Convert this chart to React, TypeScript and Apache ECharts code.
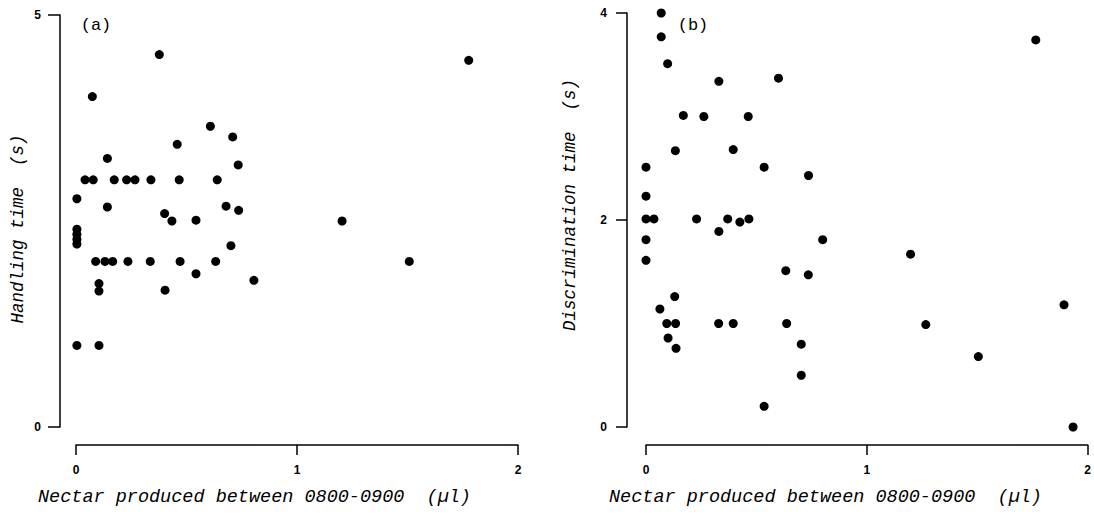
import React, { useEffect, useRef } from "react";
import * as echarts from "echarts";

// Panel (a): Handling time vs nectar produced
const handlingX = [0.377, 1.777, 0.074, 0.608, 0.709, 0.458, 0.142, 0.734, 0.041, 0.078, 0.173, 0.229, 0.267, 0.339, 0.467, 0.639, 0.004, 0.142, 0.401, 0.434, 0.543, 0.679, 0.736, 1.204, 0.004, 0.004, 0.004, 0.004, 0.701, 0.089, 0.131, 0.166, 0.235, 0.336, 0.471, 0.632, 1.508, 0.543, 0.805, 0.104, 0.104, 0.403, 0.004, 0.104];
const handlingY = [4.52, 4.45, 4.01, 3.65, 3.52, 3.43, 3.26, 3.18, 3.0, 3.0, 3.0, 3.0, 3.0, 3.0, 3.0, 3.0, 2.77, 2.67, 2.59, 2.5, 2.51, 2.68, 2.63, 2.5, 2.4, 2.34, 2.28, 2.22, 2.2, 2.01, 2.01, 2.01, 2.01, 2.01, 2.01, 2.01, 2.01, 1.86, 1.78, 1.74, 1.65, 1.66, 0.99, 0.99];

// Panel (b): Discrimination time vs nectar produced
const discX = [0.069, 0.069, 0.098, 0.33, 0.6, 0.169, 0.262, 0.463, 0.133, 0.395, 0, 0.535, 0.736, 0, 0, 0.036, 0.229, 0.37, 0.466, 0.425, 0.33, 0, 0.8, 0, 0.633, 0.735, 0.13, 0.063, 0.094, 0.134, 0.329, 0.395, 0.637, 0.1, 0.136, 0.703, 0.703, 0.535, 1.198, 1.267, 1.505, 1.893, 1.934, 1.765];
const discY = [4.0, 3.77, 3.51, 3.34, 3.37, 3.01, 3.0, 3.0, 2.67, 2.68, 2.51, 2.51, 2.43, 2.23, 2.01, 2.01, 2.01, 2.01, 2.01, 1.98, 1.89, 1.81, 1.81, 1.61, 1.51, 1.47, 1.26, 1.14, 1.0, 1.0, 1.0, 1.0, 1.0, 0.86, 0.76, 0.8, 0.5, 0.2, 1.67, 0.99, 0.68, 1.18, 0, 3.74];

const xTitle = "Nectar produced between 0800-0900  (\u00b5l)";
const yTitleA = "Handling time  (s)";
const yTitleB = "Discrimination time  (s)";
const panelLabels = ["(a)", "(b)"];

export default function App() {
  const ref = useRef<HTMLDivElement>(null);
  useEffect(() => {
    if (!ref.current) return;
    const chart = echarts.init(ref.current, null, { renderer: "svg" });
    const axisLine = { show: true, onZero: false, lineStyle: { color: "#000", width: 1.5 } };
    const tickLabel = {
      color: "#000",
      fontFamily: "Liberation Sans",
      fontWeight: "bold" as const,
      fontSize: 12,
    };
    const xAxisBase = (gridIndex: number) => ({
      type: "value" as const,
      gridIndex,
      min: 0,
      max: 2,
      interval: 1,
      position: "bottom" as const,
      offset: 18,
      axisLine,
      axisTick: { show: true, inside: false, length: 10, lineStyle: { color: "#000", width: 1.5 } },
      axisLabel: { ...tickLabel, margin: 19 },
      splitLine: { show: false },
    });
    const titleStyle = {
      fill: "#000",
      fontFamily: "Liberation Mono",
      fontStyle: "italic",
    };
    chart.setOption({
      animation: false,
      backgroundColor: "#fff",
      grid: [
        { left: 76, top: 15, width: 442, height: 412 },
        { left: 646, top: 13, width: 442, height: 414 },
      ],
      xAxis: [xAxisBase(0), xAxisBase(1)],
      yAxis: [
        {
          type: "value",
          gridIndex: 0,
          min: 0,
          max: 5,
          interval: 5,
          position: "left",
          offset: 16,
          axisLine,
          axisTick: { show: true, inside: false, length: 12, lineStyle: { color: "#000", width: 1.5 } },
          axisLabel: { ...tickLabel, margin: 19 },
          splitLine: { show: false },
        },
        {
          type: "value",
          gridIndex: 1,
          min: 0,
          max: 4,
          interval: 2,
          position: "left",
          offset: 19,
          axisLine,
          axisTick: { show: true, inside: false, length: 11, lineStyle: { color: "#000", width: 1.5 } },
          axisLabel: { ...tickLabel, margin: 20 },
          splitLine: { show: false },
        },
      ],
      series: [
        {
          type: "scatter",
          xAxisIndex: 0,
          yAxisIndex: 0,
          clip: false,
          symbol: "circle",
          symbolSize: 9,
          itemStyle: { color: "#000", opacity: 1 },
          data: handlingX.map((x, i) => [x, handlingY[i]]),
        },
        {
          type: "scatter",
          xAxisIndex: 1,
          yAxisIndex: 1,
          clip: false,
          symbol: "circle",
          symbolSize: 9,
          itemStyle: { color: "#000", opacity: 1 },
          data: discX.map((x, i) => [x, discY[i]]),
        },
      ],
      graphic: [
        {
          type: "text",
          x: 38,
          y: 497,
          style: { ...titleStyle, text: xTitle, fontSize: 18.5, align: "left", verticalAlign: "middle" },
        },
        {
          type: "text",
          x: 609,
          y: 497,
          style: { ...titleStyle, text: xTitle, fontSize: 18.5, align: "left", verticalAlign: "middle" },
        },
        {
          type: "text",
          x: 18,
          y: 229,
          rotation: Math.PI / 2,
          style: { ...titleStyle, text: yTitleA, fontSize: 17.5, align: "center", verticalAlign: "middle" },
        },
        {
          type: "text",
          x: 570,
          y: 205,
          rotation: Math.PI / 2,
          style: { ...titleStyle, text: yTitleB, fontSize: 17.5, align: "center", verticalAlign: "middle" },
        },
        {
          type: "text",
          x: 96,
          y: 25,
          style: { fill: "#000", fontFamily: "Liberation Mono", text: panelLabels[0], fontSize: 17, align: "center", verticalAlign: "middle" },
        },
        {
          type: "text",
          x: 693,
          y: 25,
          style: { fill: "#000", fontFamily: "Liberation Mono", text: panelLabels[1], fontSize: 17, align: "center", verticalAlign: "middle" },
        },
      ],
    });
    return () => chart.dispose();
  }, []);
  return (
    <div
      ref={ref}
      style={{ position: "fixed", left: 0, top: 0, width: 1094, height: 526 }}
    />
  );
}
